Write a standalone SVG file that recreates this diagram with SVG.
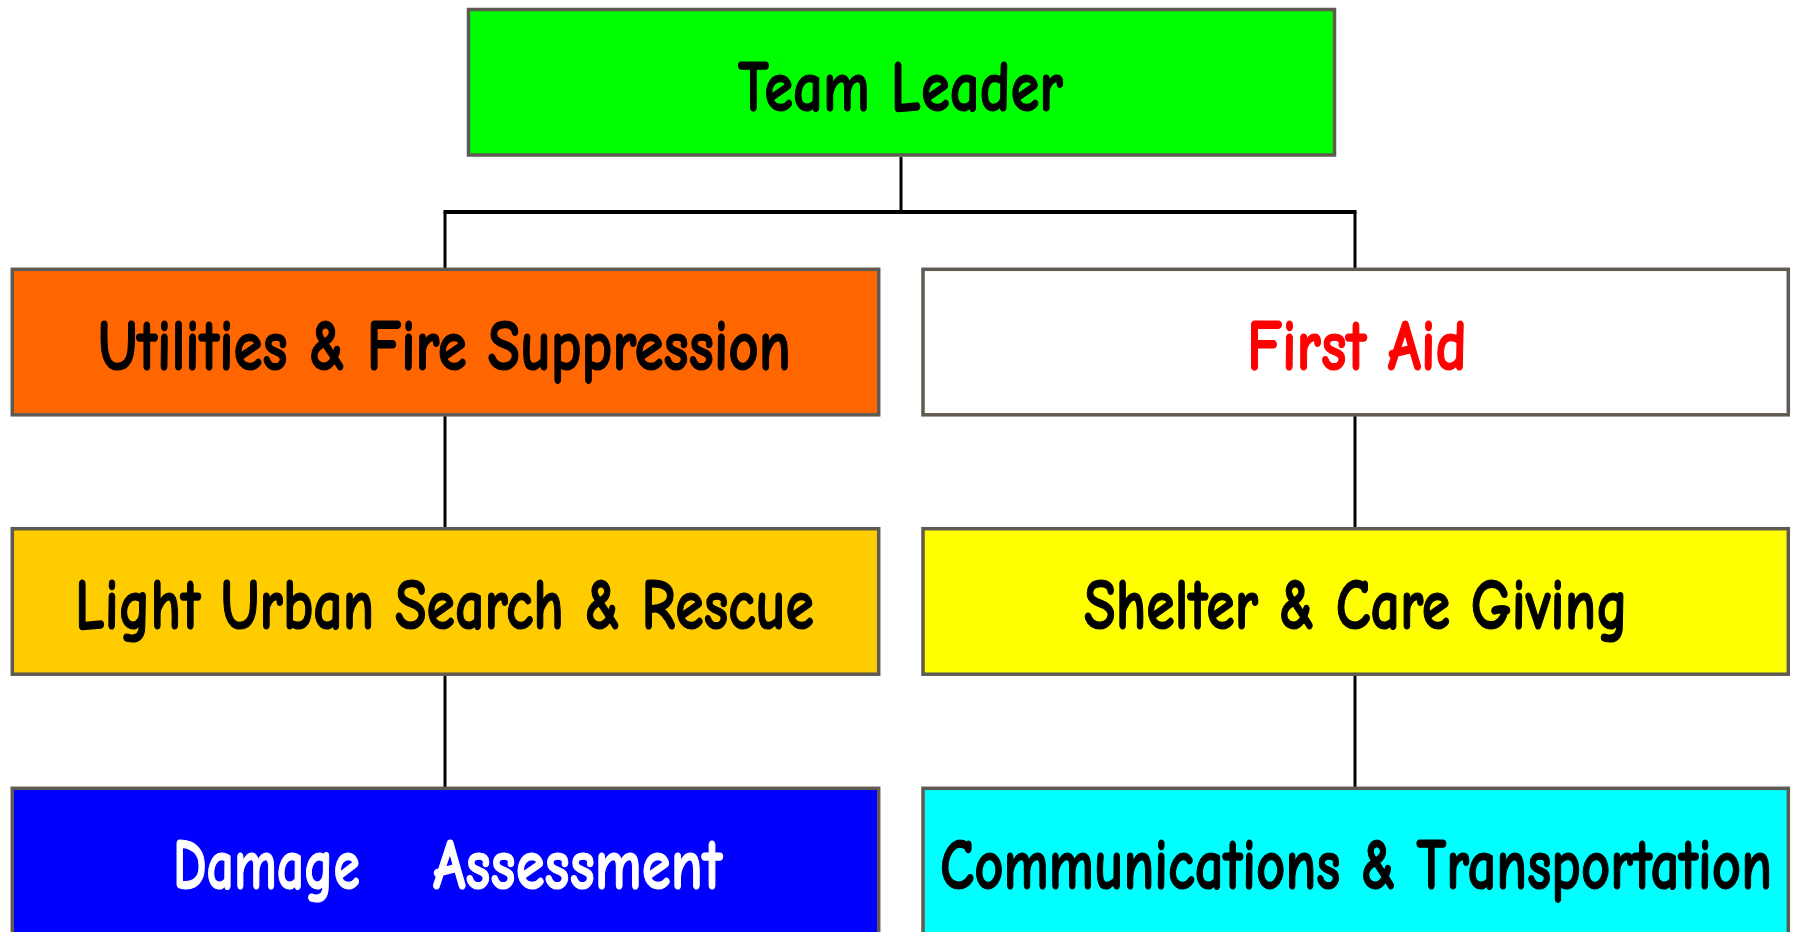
<svg xmlns="http://www.w3.org/2000/svg" width="1793" height="932" viewBox="0 0 1793 932">
<style>
.box{stroke:#5f5a52;stroke-width:3.5}
.lbl{font-family:"Comic Sans MS","Comic Neue","DejaVu Sans","Liberation Sans",sans-serif;font-weight:bold;font-size:72px;text-anchor:middle;stroke-width:1.2}
.lbl2{font-family:"Comic Sans MS","Comic Neue","DejaVu Sans","Liberation Sans",sans-serif;font-weight:bold;font-size:72px;stroke-width:1.2}
.conn{stroke:#000;fill:none;stroke-width:3}
</style>
<rect width="1793" height="932" fill="#fff"/>
<g id="connectors">
<line class="conn" x1="901" y1="157" x2="901" y2="212"/>
<line class="conn" x1="443.5" y1="212" x2="1356.5" y2="212" style="stroke-width:4"/>
<line class="conn" x1="445" y1="212" x2="445" y2="269"/>
<line class="conn" x1="1355" y1="212" x2="1355" y2="269"/>
<line class="conn" x1="445" y1="416" x2="445" y2="528"/>
<line class="conn" x1="445" y1="675" x2="445" y2="788"/>
<line class="conn" x1="1355" y1="416" x2="1355" y2="528"/>
<line class="conn" x1="1355" y1="675" x2="1355" y2="788"/>
</g>
<g id="team-leader">
<rect class="box" x="468.5" y="9.5" width="866" height="145.5" fill="#00ff00"/>
<text class="lbl" x="900.5" y="111" textLength="325" lengthAdjust="spacingAndGlyphs" fill="#000" stroke="#000">Team Leader</text>
</g>
<g id="utilities">
<rect class="box" x="12.3" y="269.3" width="866.4" height="145.5" fill="#ff6600"/>
<text class="lbl" x="444.5" y="370" textLength="693" lengthAdjust="spacingAndGlyphs" fill="#000" stroke="#000">Utilities &amp; Fire Suppression</text>
</g>
<g id="first-aid">
<rect class="box" x="923" y="269.3" width="865.3" height="145.5" fill="#ffffff"/>
<text class="lbl" x="1357" y="370" textLength="220" lengthAdjust="spacingAndGlyphs" fill="#ff0000" stroke="#ff0000">First Aid</text>
</g>
<g id="light-usar">
<rect class="box" x="12.3" y="528.7" width="866.4" height="145.5" fill="#ffcc00"/>
<text class="lbl" x="444.5" y="629" textLength="739" lengthAdjust="spacingAndGlyphs" fill="#000" stroke="#000">Light Urban Search &amp; Rescue</text>
</g>
<g id="shelter">
<rect class="box" x="923" y="528.7" width="865.3" height="145.5" fill="#ffff00"/>
<text class="lbl" x="1356" y="629" textLength="544" lengthAdjust="spacingAndGlyphs" fill="#000" stroke="#000">Shelter &amp; Care Giving</text>
</g>
<g id="damage">
<rect class="box" x="12.3" y="788.3" width="866.4" height="145.5" fill="#0000ff"/>
<text class="lbl2" y="888.5" fill="#fff" stroke="#fff"><tspan x="173" textLength="187" lengthAdjust="spacingAndGlyphs">Damage</tspan><tspan x="433" textLength="289" lengthAdjust="spacingAndGlyphs">Assessment</tspan></text>
</g>
<g id="communications">
<rect class="box" x="923" y="788.3" width="865.3" height="145.5" fill="#00ffff"/>
<text class="lbl" x="1356" y="888.5" textLength="832" lengthAdjust="spacingAndGlyphs" fill="#000" stroke="#000">Communications &amp; Transportation</text>
</g>
</svg>
